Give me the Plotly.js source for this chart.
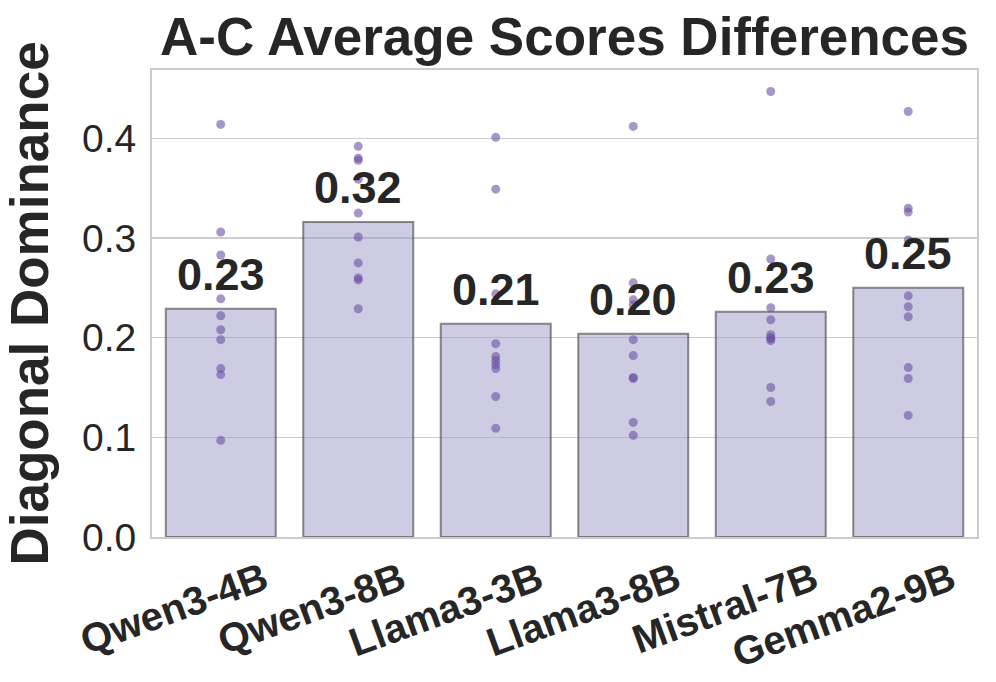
<!DOCTYPE html>
<html>
<head>
<meta charset="utf-8">
<script src="https://cdn.plot.ly/plotly-3.0.1.min.js"></script>
<style>html,body{margin:0;padding:0;background:#fff;}#chart{width:996px;height:682px;}</style>
</head>
<body>
<div id="chart"></div>
<script>
const categories = ['Qwen3-4B','Qwen3-8B','Llama3-3B','Llama3-8B','Mistral-7B','Gemma2-9B'];
const means = [0.229, 0.316, 0.214, 0.204, 0.226, 0.250];
const qwen4 = [0.414, 0.306, 0.283, 0.239, 0.222, 0.208, 0.198, 0.169, 0.163, 0.097];
const qwen8 = [0.392, 0.380, 0.378, 0.359, 0.325, 0.301, 0.275, 0.260, 0.258, 0.229];
const llama3 = [0.401, 0.349, 0.244, 0.194, 0.181, 0.177, 0.173, 0.169, 0.141, 0.109];
const llama8 = [0.412, 0.255, 0.238, 0.233, 0.198, 0.182, 0.160, 0.159, 0.115, 0.102];
const mistral7 = [0.447, 0.279, 0.230, 0.218, 0.203, 0.200, 0.199, 0.197, 0.150, 0.136];
const gemma9 = [0.427, 0.330, 0.326, 0.298, 0.242, 0.231, 0.221, 0.170, 0.159, 0.122];
const yTicks = [0.0, 0.1, 0.2, 0.3, 0.4];

const groups = [qwen4, qwen8, llama3, llama8, mistral7, gemma9];
const px = [], py = [];
groups.forEach((g, i) => g.forEach(v => { px.push(categories[i]); py.push(v); }));

const FONT = 'Liberation Sans, Arial, sans-serif';
const TXT = '#262626';

const bars = {
  type: 'bar', x: categories, y: means,
  marker: { color: 'rgba(158,154,200,0.5)', line: { color: 'rgba(50,50,50,0.55)', width: 2 } },
  hoverinfo: 'skip'
};
const pts = {
  type: 'scatter', mode: 'markers', x: px, y: py,
  marker: { color: 'rgba(106,81,163,0.6)', size: 9, line: { width: 0 } },
  hoverinfo: 'skip'
};

const annotations = categories.map((c, i) => ({
  x: c, y: means[i], xref: 'x', yref: 'y', text: means[i].toFixed(2),
  showarrow: false, yanchor: 'bottom', yshift: 7,
  font: { family: FONT, size: 45, color: TXT, weight: 'bold' }
}));

const layout = {
  width: 996, height: 682,
  margin: { l: 152, r: 19, t: 70, b: 145 },
  paper_bgcolor: '#fff', plot_bgcolor: '#fff',
  showlegend: false, bargap: 0.2,
  title: { text: 'A-C Average Scores Differences', x: 0.5, xref: 'paper', y: 1, yref: 'paper', yanchor: 'bottom', pad: { b: 15 },
    font: { family: FONT, size: 53, color: TXT, weight: 'bold' } },
  xaxis: {
    type: 'category', showgrid: false, showline: true, mirror: true, linecolor: '#cccccc', linewidth: 2,
    ticks: '', tickangle: -20, ticklabelshift: 43, ticklabelstandoff: 2,
    tickfont: { family: FONT, size: 40, color: TXT, weight: 'bold' }, zeroline: false
  },
  yaxis: {
    range: [0, 0.4686], tickvals: yTicks, ticktext: yTicks.map(v => v.toFixed(1)),
    showgrid: true, gridcolor: '#cccccc', gridwidth: 1.5, zeroline: false,
    showline: true, mirror: true, linecolor: '#cccccc', linewidth: 2, ticks: '',
    ticklabelstandoff: 6,
    tickfont: { family: FONT, size: 39, color: TXT },
    title: { text: 'Diagonal Dominance', standoff: 16, font: { family: FONT, size: 53, color: TXT, weight: 'bold' } }
  },
  annotations: annotations
};
Plotly.newPlot('chart', [bars, pts], layout, { displayModeBar: false, staticPlot: true });
</script>
</body>
</html>
